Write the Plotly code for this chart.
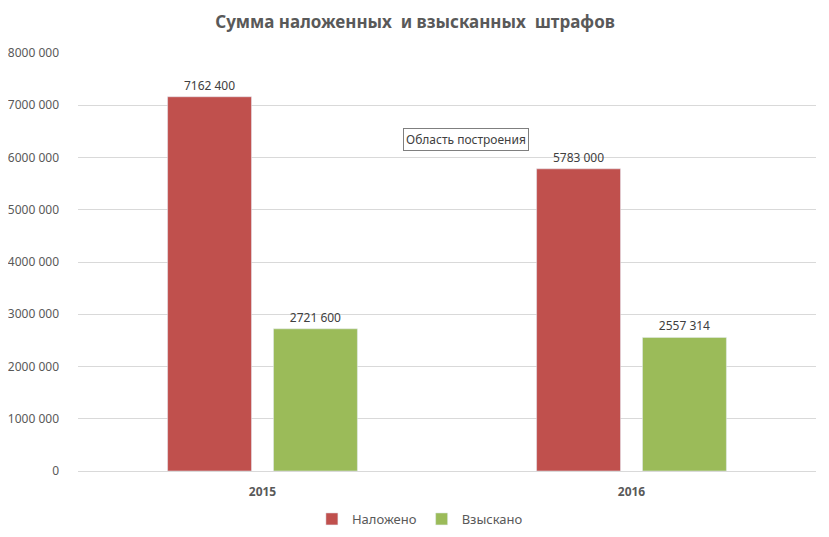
import plotly.graph_objects as go

categories = ["2015", "2016"]
imposed = [7162400, 5783000]
collected = [2721600, 2557314]
imposed_labels = ["7162 400", "5783 000"]
collected_labels = ["2721 600", "2557 314"]
tick_vals = [0, 1000000, 2000000, 3000000, 4000000, 5000000, 6000000, 7000000, 8000000]
tick_text = ["0", "1000 000", "2000 000", "3000 000", "4000 000", "5000 000", "6000 000", "7000 000", "8000 000"]

font = "Noto Sans"
O = 8  # page body margin offset
W, H = 829 - O, 537 - O
ML, MR, MT, MB = 77.75 - O, W - (816.5 - O), 53 - O, H - (471 - O)
PW, PH = W - ML - MR, H - MT - MB

fig = go.Figure()
fig.add_trace(go.Bar(x=categories, y=imposed, name="Наложено", marker_color="#C0504D",
                     text=imposed_labels, textposition="outside", cliponaxis=False,
                     textfont=dict(size=12, color="#404040", family=font)))
fig.add_trace(go.Bar(x=categories, y=collected, name="Взыскано", marker_color="#9BBB59",
                     text=collected_labels, textposition="outside", cliponaxis=False,
                     textfont=dict(size=12, color="#404040", family=font)))

fig.update_layout(
    width=W, height=H,
    paper_bgcolor="white", plot_bgcolor="white",
    margin=dict(l=ML, r=MR, t=MT, b=MB, autoexpand=False),
    barmode="group", bargap=0.426, bargroupgap=0.2075,
    title=dict(text="<b>Сумма наложенных  и взысканных  штрафов</b>", x=(415 - O) / W, xanchor="center",
               xref="container",
               y=1 - (22 - O) / H, yanchor="middle", font=dict(size=17, color="#595959", family=font)),
    font=dict(family=font, color="#595959"),
    xaxis=dict(showgrid=False, showline=True, linecolor="#D9D9D9", ticks="", automargin=False,
               tickfont=dict(size=12, color="#595959", family=font), ticklabelstandoff=10,
               tickprefix="<b>", ticksuffix="</b>"),
    yaxis=dict(range=[0, 8000000], tickvals=tick_vals, ticktext=tick_text, automargin=False,
               showgrid=True, gridcolor="#D9D9D9", gridwidth=1, zeroline=False,
               tickfont=dict(size=12, color="#595959", family=font), ticklabelstandoff=18),
    legend=dict(orientation="h", x=(420 - O - ML) / PW, xanchor="center", yref="container",
                y=(H - (519 - O)) / H, yanchor="middle",
                font=dict(size=13, color="#595959", family=font), itemwidth=30,
                traceorder="normal"),
    showlegend=True,
)
fig.add_annotation(text="Область построения", xref="paper", yref="paper",
                   x=(466 - O - ML) / PW, y=1 - (128 - O - MT) / PH,
                   showarrow=False, font=dict(size=12, color="#404040", family=font),
                   bordercolor="#7F7F7F", borderwidth=1, borderpad=2, bgcolor="white")
fig.write_html("out.html")
